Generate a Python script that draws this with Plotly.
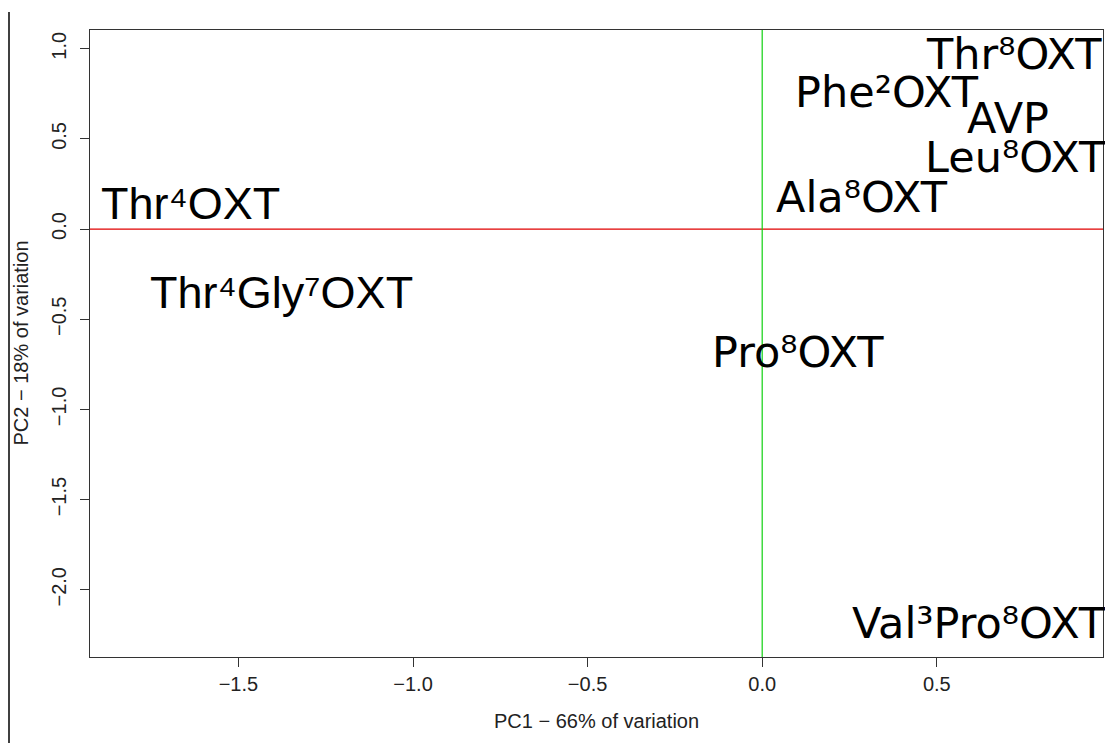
import plotly.graph_objects as go

# PCA scores of the peptide analogues
labels = [
    "Thr\u2078OXT",
    "Phe\u00b2OXT",
    "AVP",
    "Leu\u2078OXT",
    "Ala\u2078OXT",
    "Pro\u2078OXT",
    "Val\u00b3Pro\u2078OXT",
    "Thr\u2074OXT",
    "Thr\u2074Gly\u2077OXT",
]
pc1 = [0.720, 0.358, 0.704, 0.724, 0.285, 0.103, 0.621, -1.636, -1.378]
pc2 = [0.969, 0.761, 0.618, 0.400, 0.178, -0.679, -2.183, 0.144, -0.353]
label_fonts = ["DejaVu Sans"] * 7 + ["Liberation Sans"] * 2

x_ticks = [-1.5, -1.0, -0.5, 0.0, 0.5]
x_ticktext = ["\u22121.5", "\u22121.0", "\u22120.5", "0.0", "0.5"]
y_ticks = [-2.0, -1.5, -1.0, -0.5, 0.0, 0.5, 1.0]
y_ticktext = ["\u22122.0", "\u22121.5", "\u22121.0", "\u22120.5", "0.0", "0.5", "1.0"]

x_range = [-1.925, 0.976]
y_range = [-2.373, 1.104]

W, H = 1105, 743
ML, MR, MT, MB = 90, 2, 30, 86
font_size = {"DejaVu Sans": 43, "Liberation Sans": 45}

fig = go.Figure()
# invisible anchor trace so the axes are created
fig.add_trace(go.Scatter(x=pc1, y=pc2, mode="markers",
                         marker=dict(opacity=0), hoverinfo="skip",
                         showlegend=False))

# sample names centred on their scores
for xv, yv, txt, fam in zip(pc1, pc2, labels, label_fonts):
    fig.add_annotation(x=xv, y=yv, xref="x", yref="y", text=txt,
                       showarrow=False, xanchor="center", yanchor="middle",
                       font=dict(family=fam, size=font_size[fam], color="black"))

tick_font = dict(family="Liberation Sans, Arial, sans-serif", size=20, color="#222")

fig.update_layout(
    width=W, height=H,
    margin=dict(l=ML, r=MR, t=MT, b=MB, pad=0),
    paper_bgcolor="white",
    plot_bgcolor="white",
    xaxis=dict(
        range=x_range, showgrid=False, zeroline=False,
        showline=True, mirror=True, linecolor="#333", linewidth=1,
        ticks="outside", ticklen=9, tickcolor="#333",
        tickvals=x_ticks, ticktext=x_ticktext, tickfont=tick_font,
    ),
    yaxis=dict(
        range=y_range, showgrid=False, zeroline=False,
        showline=True, mirror=True, linecolor="#333", linewidth=1,
        ticks="outside", ticklen=9, tickcolor="#333",
        tickvals=y_ticks, ticktext=y_ticktext, tickfont=tick_font,
        tickangle=-90, ticklabelstandoff=6,
    ),
)

# reference lines through the origin
fig.add_shape(type="line", xref="paper", yref="y", x0=0, x1=1, y0=0, y1=0,
              line=dict(color="#e00000", width=1.2))
fig.add_shape(type="line", xref="x", yref="paper", x0=0, x1=0, y0=0, y1=1,
              line=dict(color="#10d010", width=1.2))

# vertical rule at the left edge of the figure
pw = W - ML - MR
ph = H - MT - MB
fig.add_shape(type="line", xref="paper", yref="paper",
              x0=(9 - ML) / pw, x1=(9 - ML) / pw,
              y0=(H - MB - H) / ph, y1=(H - MB - 12) / ph,
              line=dict(color="black", width=1.5))

title_font = dict(family="Liberation Sans, Arial, sans-serif", size=20, color="#222")
fig.add_annotation(text="PC1 \u2212 66% of variation", xref="paper", yref="paper",
                   x=0.5, y=(H - MB - 721) / ph, showarrow=False,
                   xanchor="center", yanchor="middle", font=title_font)
fig.add_annotation(text="PC2 \u2212 18% of variation", xref="paper", yref="paper",
                   x=(20 - ML) / pw, y=0.5, showarrow=False, textangle=-90,
                   xanchor="center", yanchor="middle", font=title_font)

fig.write_html("out.html")
